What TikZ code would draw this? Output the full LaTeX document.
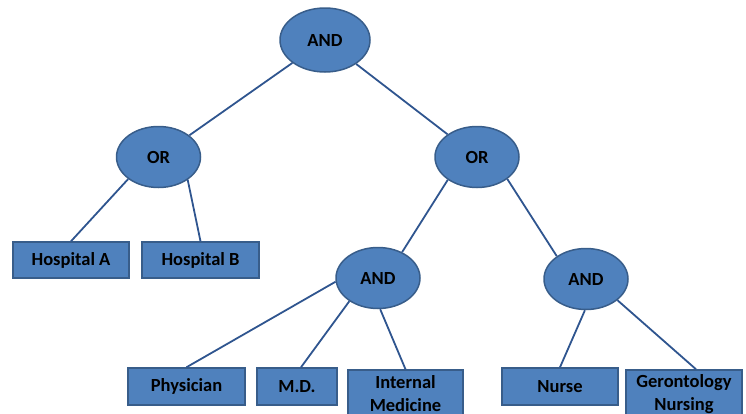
\documentclass[tikz,border=0pt]{standalone}
\usepackage{fontspec}
\setmainfont{Carlito}
\usetikzlibrary{shapes.geometric}
\definecolor{boxfill}{HTML}{4F81BD}
\definecolor{boxline}{HTML}{385D8A}
\definecolor{linkline}{RGB}{47,85,143}
\begin{document}
\begin{tikzpicture}[x=1pt,y=-1pt,
  gate/.style={ellipse,draw=boxline,fill=boxfill,line width=1.5pt,inner sep=0pt,
    minimum width=84pt,minimum height=61pt,font=\fontsize{18.5}{22}\selectfont\bfseries},
  leaf/.style={rectangle,draw=boxline,fill=boxfill,line width=1.5pt,inner sep=0pt,
    minimum height=37pt,align=center,font=\fontsize{18.5}{23}\selectfont\bfseries},
  link/.style={draw=linkline,line width=1.8pt}]
\useasboundingbox (0,0) rectangle (746,413);
\clip (0,0) rectangle (746,413);

% logic gates
\node[gate,minimum width=90pt,minimum height=64pt] (top) at (325,40) {AND};
\node[gate] (orl) at (158.5,157) {OR};
\node[gate] (orr) at (477,157) {OR};
\node[gate] (andl) at (378,278) {AND};
\node[gate] (andr) at (586,279) {AND};

% leaves
\node[leaf,minimum width=116pt,minimum height=36pt] (ha) at (71,260) {Hospital A};
\node[leaf,minimum width=117pt,minimum height=36pt] (hb) at (200.5,260) {Hospital B};
\node[leaf,minimum width=117pt] (ph) at (186.5,386.5) {Physician};
\node[leaf,minimum width=80pt] (md) at (297,386.5) {M.D.};
\node[leaf,minimum width=115pt,minimum height=48pt] (im) at (405.5,394) {Internal\\Medicine};
\node[leaf,minimum width=116pt] (nu) at (560,386.5) {Nurse};
\node[leaf,minimum width=116pt,minimum height=48pt] (gn) at (684,394) {Gerontology\\Nursing};

% connectors
\draw[link] (top) -- (orl);
\draw[link] (top) -- (orr);
\draw[link] (orl.216) -- (ha.north);
\draw[link] (orl.322) -- (hb.north);
\draw[link] (orr.218) -- (andl.47);
\draw[link] (orr.324) -- (andr.142);
\draw[link] (andl.185) -- (ph.north);
\draw[link] (andl.219) -- ([xshift=4pt]md.north);
\draw[link] (andl.274) -- (im.north);
\draw[link] (andr.268) -- (nu.north);
\draw[link] (andr.326) -- ([xshift=12pt]gn.north);
\end{tikzpicture}
\end{document}
